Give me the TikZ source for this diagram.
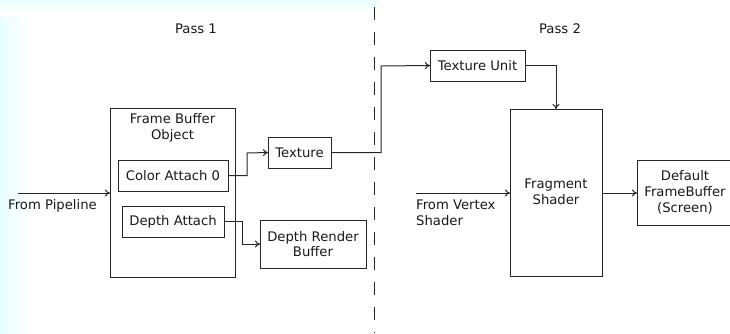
\documentclass[tikz,border=0pt]{standalone}
\usepackage{fontspec}
\setmainfont{DejaVu Sans}
\usetikzlibrary{arrows.meta}
\begin{document}
\begin{tikzpicture}[x=1pt,y=-1pt,
  every node/.style={font=\fontsize{13.2}{15.8}\selectfont, text=black!90},
  box/.style={draw=black!85, line width=1pt, anchor=north west, inner sep=0pt, outer sep=0pt, align=center},
  conn/.style={draw=black!85, line width=1pt, -{To[length=5pt,width=7pt]}},
  lbl/.style={inner sep=0pt, anchor=base west, align=left}]
\useasboundingbox (0,0) rectangle (730,333);
\fill[white] (0,0) rectangle (730,333);
\shade[left color=cyan!9, right color=white] (0,0) rectangle (32,333);
\shade[top color=cyan!8, bottom color=white] (0,0) rectangle (380,16);
% divider
\draw[black!85, line width=1pt, dash pattern=on 13pt off 12pt, dash phase=-7pt] (374,0) -- (374,333);
% titles
\node[inner sep=0pt, anchor=base] (p1) at (196,33) {Pass 1};
\node[inner sep=0pt, anchor=base] (p2) at (560,33) {Pass 2};
% pass 1
\node[box, minimum width=125, minimum height=169] (fbo) at (110,108) {};
\node[inner sep=0pt, align=center, anchor=north] (fbot) at (172.5,113) {Frame Buffer\\Object};
\node[box, minimum width=110, minimum height=31] (ca) at (118,160) {Color Attach 0};
\node[box, minimum width=102, minimum height=31] (da) at (122,206) {Depth Attach};
\node[box, minimum width=63, minimum height=31] (tex) at (268,137) {Texture};
\node[box, minimum width=106, minimum height=48] (drb) at (260,220) {Depth Render\\Buffer};
\coordinate (pin) at (18,193);
\draw[conn] (pin) -- (fbo.west |- pin);
\node[lbl] (fp) at (8,209) {From Pipeline};
\draw[conn] (ca.east) -| (247,153) -- (tex.west);
\draw[conn] (da.east) -| (242,244) -- (drb.west);
% pass 2
\node[box, minimum width=95, minimum height=31] (tu) at (430,50) {Texture Unit};
\node[box, minimum width=92, minimum height=167] (fs) at (510,109) {};
\node[inner sep=0pt, align=center] (fst) at (556,192) {Fragment\\Shader};
\node[box, minimum width=96, minimum height=65] (dfb) at (637,160) {Default\\FrameBuffer\\(Screen)};
\draw[conn] (tex.east) -| (381,66) -- (tu.west);
\draw[conn] (tu.east) -| (fs.north -| 556,0);
\coordinate (vin) at (416,193);
\draw[conn] (vin) -- (fs.west |- vin);
\node[lbl] (fv) at (416,225) {From Vertex\\Shader};
\draw[conn] (fs.east |- 0,193) -- (dfb.west |- 0,193);
\end{tikzpicture}
\end{document}
